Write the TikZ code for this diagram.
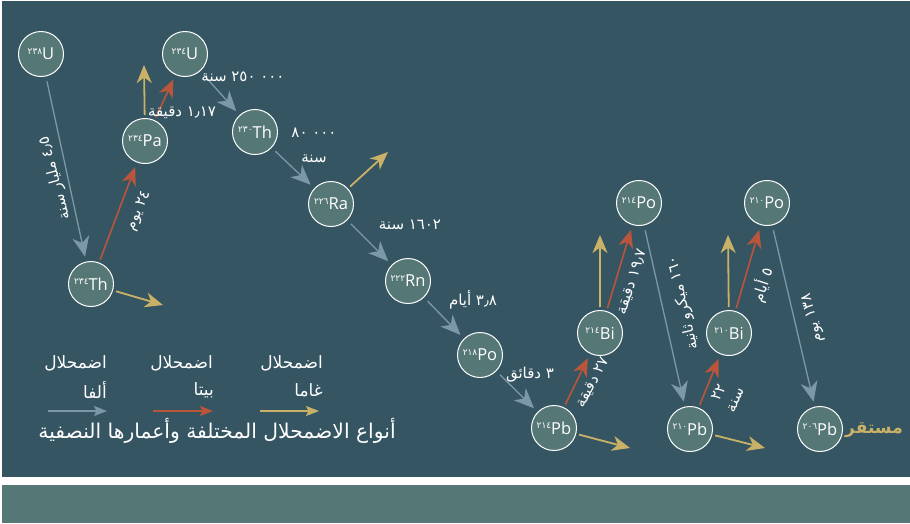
\documentclass[tikz,border=0pt]{standalone}
\usepackage{fontspec}
\setmainfont{Open Sans}
\newfontfamily\arabicfont[Script=Arabic]{DejaVu Sans}
\TeXXeTstate=1
\usetikzlibrary{arrows.meta}

\definecolor{bgdark}{HTML}{365562}
\definecolor{nodefill}{HTML}{557775}
\definecolor{alphac}{HTML}{7B98A6}
\definecolor{betac}{HTML}{B9553A}
\definecolor{gammac}{HTML}{C9B267}

\newcommand{\nucl}[2]{{\arabicfont\fontsize{9}{9}\selectfont\raisebox{5.5pt}{#1}}{\fontsize{16.5}{16.5}\selectfont #2}}

\tikzset{
  nuc/.style={circle, draw=white, line width=1pt, fill=nodefill, minimum size=45pt, inner sep=0pt, text=white},
  alphahead/.style={-{Stealth[length=20pt,width=17pt,inset=6pt]}},
  bghead/.style={-{Stealth[length=18pt,width=15pt,inset=5.5pt]}},
  smallhead/.style={-{Stealth[length=13pt,width=10pt,inset=2.5pt]}},
  alpharrow/.style={draw=alphac, line width=1.3pt, alphahead, shorten >=5pt, shorten <=5pt},
  betarrow/.style={draw=betac, line width=1.6pt, bghead, shorten >=5pt, shorten <=3pt},
  gammarrow/.style={draw=gammac, line width=1.8pt, bghead, shorten <=3pt},
  legarrow/.style={line width=1.3pt, smallhead},
  lbl/.style={text=white, inner sep=0pt, font=\arabicfont\fontsize{15}{18}\selectfont},
  leg/.style={text=white, inner sep=0pt, font=\arabicfont\fontsize{17}{19}\selectfont},
}

\begin{document}
\begin{tikzpicture}[x=1pt,y=-1pt]
\useasboundingbox (0,0) rectangle (910,523);
\fill[white] (0,0) rectangle (910,523);
\fill[bgdark] (2,1) rectangle (910,477);
\fill[nodefill] (2,485) rectangle (910,523);

% nuclides
\node[nuc] (u238) at (41,54) {\nucl{٢٣٨}{U}};
\node[nuc] (th234) at (91,284) {\nucl{٢٣٤}{Th}};
\node[nuc] (pa234) at (145,141) {\nucl{٢٣٤}{Pa}};
\node[nuc] (u234) at (185,54) {\nucl{٢٣٤}{U}};
\node[nuc] (th230) at (255,132) {\nucl{٢٣٠}{Th}};
\node[nuc] (ra226) at (331,204) {\nucl{٢٢٦}{Ra}};
\node[nuc] (rn222) at (408,281) {\nucl{٢٢٢}{Rn}};
\node[nuc] (po218) at (480,355) {\nucl{٢١٨}{Po}};
\node[nuc] (pb214) at (554,428) {\nucl{٢١٤}{Pb}};
\node[nuc] (bi214) at (600,333) {\nucl{٢١٤}{Bi}};
\node[nuc] (po214) at (639,203) {\nucl{٢١٤}{Po}};
\node[nuc] (pb210) at (690,429) {\nucl{٢١٠}{Pb}};
\node[nuc] (bi210) at (729,333) {\nucl{٢١٠}{Bi}};
\node[nuc] (po210) at (767,203) {\nucl{٢١٠}{Po}};
\node[nuc] (pb206) at (820,429) {\nucl{٢٠٦}{Pb}};

% alpha decays
\draw[alpharrow] (u238) -- (th234);
\draw[alpharrow] (u234) -- (th230);
\draw[alpharrow] (th230) -- (ra226);
\draw[alpharrow] (ra226) -- (rn222);
\draw[alpharrow] (rn222) -- (po218);
\draw[alpharrow] (po218) -- (pb214);
\draw[alpharrow] (po214) -- (pb210);
\draw[alpharrow] (po210) -- (pb206);

% beta decays
\draw[betarrow] (th234) -- (pa234);
\draw[betarrow] (pa234) -- (u234);
\draw[betarrow] (pb214) -- (bi214);
\draw[betarrow] (bi214) -- (po214);
\draw[betarrow] (pb210) -- (bi210);
\draw[betarrow] (bi210) -- (po210);

% gamma emissions
\coordinate (g1) at (163,305);
\coordinate (g2) at (144,65);
\coordinate (g3) at (388,152);
\coordinate (g4) at (630,448);
\coordinate (g5) at (600,235);
\coordinate (g6) at (765,448);
\coordinate (g7) at (728,235);
\draw[gammarrow] (th234) -- (g1);
\draw[gammarrow] (pa234) -- (g2);
\draw[gammarrow] (ra226) -- (g3);
\draw[gammarrow] (pb214) -- (g4);
\draw[gammarrow] (bi214) -- (g5);
\draw[gammarrow] (pb210) -- (g6);
\draw[gammarrow] (bi210) -- (g7);

% half-life labels
\node[lbl] (l1) at (182,113) {\beginR ١٫١٧ دقيقة\endR};
\node[lbl] (l2) at (243,77) {\beginR\beginL ٢٥٠ ٠٠٠\endL{} سنة\endR};
\node[lbl, align=center, font=\arabicfont\fontsize{15}{25}\selectfont] (l3) at (314,145) {\beginR\beginL ٨٠ ٠٠٠\endL\endR\\\beginR سنة\endR};
\node[lbl] (l4) at (410,225) {\beginR ١٦٠٢ سنة\endR};
\node[lbl] (l5) at (473,300) {\beginR ٣٫٨ أيام\endR};
\node[lbl] (l6) at (530,375) {\beginR ٣ دقائق\endR};
\node[lbl, rotate=105] (r1) at (55,178) {\beginR ٤٫٥ مليار سنة\endR};
\node[lbl, rotate=67] (r2) at (139,211) {\beginR ٢٤ يوم\endR};
\node[lbl, rotate=62] (r3) at (593,383) {\beginR ٢٧ دقيقة\endR};
\node[lbl, rotate=72] (r4) at (632,282) {\beginR ١٩٫٧ دقيقة\endR};
\node[lbl, rotate=103] (r5) at (683,303) {\beginR ١٦٠ ميكرو ثانية\endR};
\node[lbl, rotate=66, align=center] (r6) at (727,396) {٢٢\\\beginR سنة\endR};
\node[lbl, rotate=72] (r7) at (762,285) {\beginR ٥ أيام\endR};
\node[lbl, rotate=104] (r8) at (813,318) {\beginR ١٣٨ يوم\endR};

\node[text=gammac, inner sep=0pt, font=\arabicfont\bfseries\fontsize{17}{20}\selectfont] (stable) at (874,430) {\beginR مستقر\endR};

% legend
\node[leg, anchor=east] (la1) at (107,363) {\beginR اضمحلال\endR};
\node[leg, anchor=east] (la2) at (107,390) {\beginR ألفا\endR};
\node[leg, anchor=east] (lb1) at (213,363) {\beginR اضمحلال\endR};
\node[leg, anchor=east] (lb2) at (214,390) {\beginR بيتا\endR};
\node[leg, anchor=east] (lg1) at (323,363) {\beginR اضمحلال\endR};
\node[leg, anchor=east] (lg2) at (323,390) {\beginR غاما\endR};
\coordinate (ka1) at (48,411);
\coordinate (ka2) at (107,411);
\coordinate (kb1) at (153,411);
\coordinate (kb2) at (213,411);
\coordinate (kg1) at (260,411);
\coordinate (kg2) at (319,411);
\draw[legarrow, draw=alphac] (ka1) -- (ka2);
\draw[legarrow, draw=betac] (kb1) -- (kb2);
\draw[legarrow, draw=gammac] (kg1) -- (kg2);

\node[text=white, inner sep=0pt, font=\arabicfont\fontsize{20.3}{23}\selectfont] (title) at (217,431) {\beginR أنواع الاضمحلال المختلفة وأعمارها النصفية\endR};
\end{tikzpicture}
\end{document}
